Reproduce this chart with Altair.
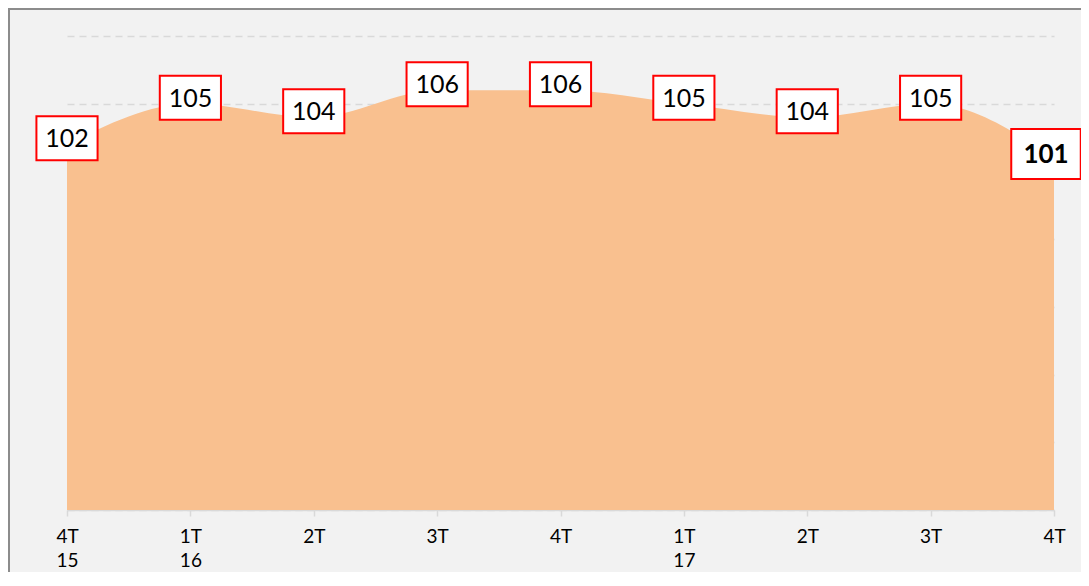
import json
import altair as alt
import pandas as pd

# ---- data ----
quarters = ["4T 15", "1T 16", "2T 16", "3T 16", "4T 16", "1T 17", "2T 17", "3T 17", "4T 17"]
tick_labels = [["4T", "15"], ["1T", "16"], ["2T"], ["3T"], ["4T"], ["1T", "17"], ["2T"], ["3T"], ["4T"]]
values = [102, 105, 104, 106, 106, 105, 104, 105, 101]
grid_values = [75, 80, 85, 90, 95, 100, 105, 110]

df = pd.DataFrame({"i": list(range(len(values))), "quarter": quarters, "value": values})
last = len(values) - 1

W, H = 987, 474
FONT = "Lato"

x = alt.X(
    "i:Q",
    title=None,
    scale=alt.Scale(domain=[0, last], nice=False, zero=False),
    axis=alt.Axis(
        values=list(range(len(values))),
        labelExpr=json.dumps(tick_labels) + "[datum.value]",
        grid=False,
        domainColor="#d9d9d9",
        domainWidth=1.5,
        tickColor="#d9d9d9",
        tickWidth=1.5,
        tickSize=6,
        labelFont=FONT,
        labelFontSize=19,
        labelColor="#000000",
        labelPadding=11,
        labelLineHeight=24,
        labelAlign="center",
        labelBaseline="top",
        labelOverlap=False,
        labelFlush=False,
    ),
)
y_scale = alt.Scale(domain=[75, 110], nice=False, zero=False)
y = alt.Y(
    "value:Q",
    title=None,
    scale=y_scale,
    axis=alt.Axis(
        values=grid_values,
        grid=True,
        gridColor="#d9d9d9",
        gridDash=[7, 5],
        gridWidth=1.5,
        labels=False,
        ticks=False,
        domain=False,
    ),
)

base = alt.Chart(df)

area = base.mark_area(interpolate="monotone", color="#F9C08F", opacity=1).encode(
    x=x, y=y, y2=alt.datum(75)
)

box_path = "M-1.39,-1H1.39V1H-1.39Z"
boxes = base.transform_filter(f"datum.i < {last}").mark_point(
    shape=box_path, size=1936, filled=True, fill="white", stroke="#ff0000",
    strokeWidth=2, opacity=1, strokeOpacity=1, yOffset=-6
).encode(x=alt.X("i:Q"), y=alt.Y("value:Q"))

box_last = base.transform_filter(f"datum.i == {last}").mark_point(
    shape=box_path, size=2500, filled=True, fill="white", stroke="#ff0000",
    strokeWidth=2, opacity=1, strokeOpacity=1, yOffset=-4, xOffset=-8
).encode(x=alt.X("i:Q"), y=alt.Y("value:Q"))

texts = base.transform_filter(f"datum.i < {last}").mark_text(
    font=FONT, fontSize=25, color="#000000", baseline="middle", align="center", yOffset=-5
).encode(x=alt.X("i:Q"), y=alt.Y("value:Q"), text=alt.Text("value:Q"))

text_last = base.transform_filter(f"datum.i == {last}").mark_text(
    font=FONT, fontSize=26, fontWeight="bold", color="#000000", baseline="middle",
    align="center", yOffset=-3, xOffset=-8
).encode(x=alt.X("i:Q"), y=alt.Y("value:Q"), text=alt.Text("value:Q"))

frame = alt.Chart(pd.DataFrame({"k": [0]})).mark_rect(
    fill=None, filled=False, stroke="#8c8c8c", strokeWidth=2
).encode(
    x=alt.value(-58), x2=alt.value(W + 200),
    y=alt.value(-27), y2=alt.value(H + 200),
)

chart = alt.layer(area, boxes, box_last, texts, text_last, frame).properties(
    width=W,
    height=H,
    padding={"left": 59, "top": 28, "right": 27, "bottom": 62},
    autosize=alt.AutoSizeParams(type="none"),
    background="#f2f2f2",
).configure_view(stroke=None)

chart.save("out.html", embed_options={"renderer": "svg", "actions": False})
